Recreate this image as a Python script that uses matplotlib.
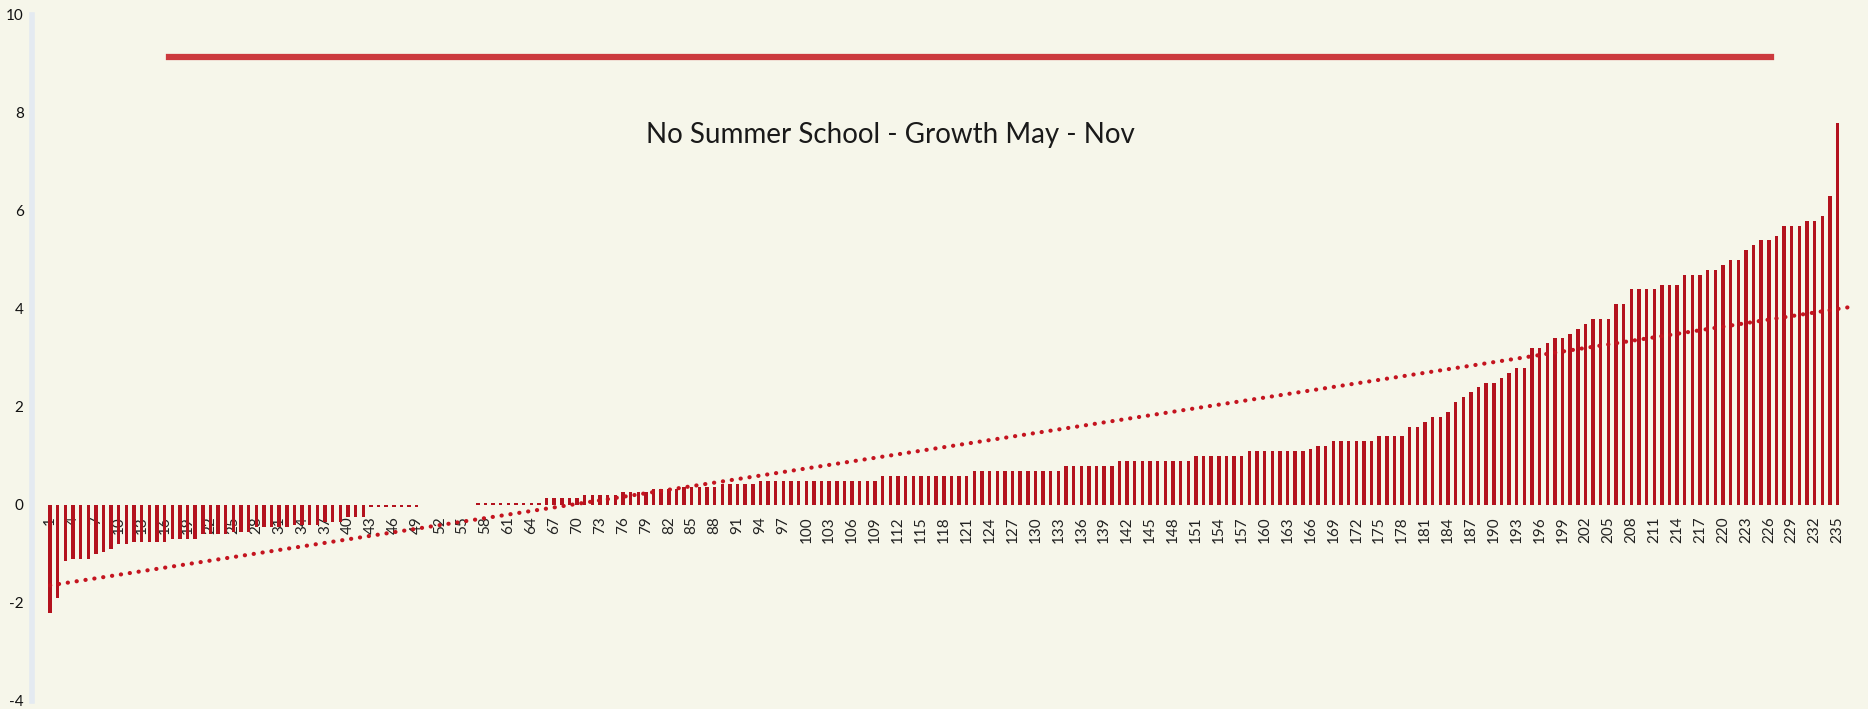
import numpy as np
import matplotlib.pyplot as plt

plt.rcParams['font.family'] = ['Lato', 'DejaVu Sans']

# pupil number (sorted by growth) and growth May - Nov
students = list(range(1, 236))
growth = [
    -2.2, -1.9, -1.15, -1.1, -1.1, -1.1, -1.0, -0.95, -0.9, -0.8,
    -0.8, -0.75, -0.75, -0.75, -0.75, -0.75, -0.7, -0.7, -0.7, -0.7,
    -0.6, -0.6, -0.6, -0.6, -0.55, -0.55, -0.55, -0.45, -0.45, -0.45,
    -0.45, -0.45, -0.4, -0.4, -0.4, -0.4, -0.35, -0.35, -0.35, -0.25,
    -0.25, -0.25, -0.05, -0.05, -0.05, -0.05, -0.05, -0.05, -0.05, 0,
    0, 0, 0, 0, 0, 0, 0.05, 0.05, 0.05, 0.05,
    0.05, 0.05, 0.05, 0.05, 0.05, 0.15, 0.15, 0.15, 0.15, 0.15,
    0.2, 0.2, 0.2, 0.2, 0.2, 0.27, 0.27, 0.27, 0.27, 0.33,
    0.33, 0.33, 0.33, 0.37, 0.37, 0.37, 0.37, 0.37, 0.42, 0.42,
    0.42, 0.42, 0.42, 0.5, 0.5, 0.5, 0.5, 0.5, 0.5, 0.5,
    0.5, 0.5, 0.5, 0.5, 0.5, 0.5, 0.5, 0.5, 0.5, 0.6,
    0.6, 0.6, 0.6, 0.6, 0.6, 0.6, 0.6, 0.6, 0.6, 0.6,
    0.6, 0.7, 0.7, 0.7, 0.7, 0.7, 0.7, 0.7, 0.7, 0.7,
    0.7, 0.7, 0.7, 0.8, 0.8, 0.8, 0.8, 0.8, 0.8, 0.8,
    0.9, 0.9, 0.9, 0.9, 0.9, 0.9, 0.9, 0.9, 0.9, 0.9,
    1.0, 1.0, 1.0, 1.0, 1.0, 1.0, 1.0, 1.1, 1.1, 1.1,
    1.1, 1.1, 1.1, 1.1, 1.1, 1.15, 1.2, 1.2, 1.3, 1.3,
    1.3, 1.3, 1.3, 1.3, 1.4, 1.4, 1.4, 1.4, 1.6, 1.6,
    1.7, 1.8, 1.8, 1.9, 2.1, 2.2, 2.3, 2.4, 2.5, 2.5,
    2.6, 2.7, 2.8, 2.8, 3.2, 3.2, 3.3, 3.4, 3.4, 3.5,
    3.6, 3.7, 3.8, 3.8, 3.8, 4.1, 4.1, 4.4, 4.4, 4.4,
    4.4, 4.5, 4.5, 4.5, 4.7, 4.7, 4.7, 4.8, 4.8, 4.9,
    5.0, 5.0, 5.2, 5.3, 5.4, 5.4, 5.5, 5.7, 5.7, 5.7,
    5.8, 5.8, 5.9, 6.3, 7.8,
]
tick_labels = students[::3]
yticks = [-4, -2, 0, 2, 4, 6, 8, 10]
title = "No Summer School - Growth May - Nov"

bg = "#f6f6ea"
red = "#b3121e"

fig = plt.figure(figsize=(18.68, 7.09), dpi=100, facecolor=bg)
ax = fig.add_axes([32 / 1868, 8 / 709, 1830 / 1868, 686 / 709], facecolor=bg)

# spines first: moving a spine resets the tick labels
ax.spines["bottom"].set_position(("data", 0))
ax.spines["bottom"].set_color("none")
ax.spines["top"].set_visible(False)
ax.spines["right"].set_visible(False)
ax.spines["left"].set_color("#e4eaf1")
ax.spines["left"].set_linewidth(4)

x = np.array(students)
y = np.array(growth)
ax.bar(x, y, width=0.45, color=red, zorder=2)

# linear trendline
k, b = np.polyfit(x, y, 1)
xt = np.array([1, 237])
ax.plot(xt, k * xt + b, color="#c4141f", lw=3, linestyle=(0, (0.05, 2.1)),
        dash_capstyle="round", zorder=3)

# decorative rule at the top
ax.axhline(9.15, xmin=0.075, xmax=0.95, color="#cc3a3e", lw=4.5, zorder=1)

ax.text(0.469, 0.825, title, transform=ax.transAxes, ha="center", va="center",
        fontsize=20, color="#1a1a1a")

ax.set_xlim(-1.36, 238.2)
ax.set_ylim(-4, 10)
ax.set_yticks(yticks)
ax.set_yticklabels([str(v) for v in yticks], fontsize=11)
ax.set_xticks(tick_labels)
ax.set_xticklabels([str(v) for v in tick_labels], rotation=90, fontsize=11,
                   va="top", ha="center")
ax.tick_params(axis="x", length=0, pad=8, colors="#222222")
ax.tick_params(axis="y", length=0, pad=6, colors="#111111")

fig.savefig("out.png", dpi=100, facecolor=bg)
